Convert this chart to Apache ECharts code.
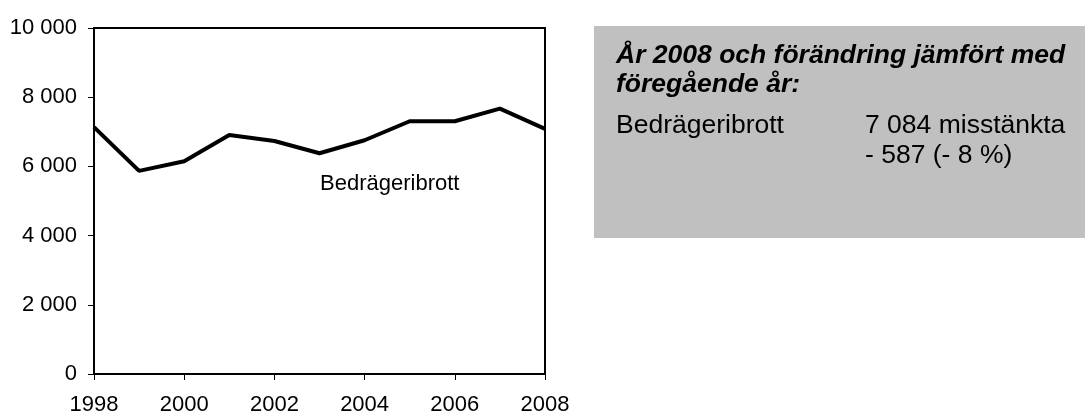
<!DOCTYPE html>
<html>
<head>
<meta charset="utf-8">
<script src="https://cdn.jsdelivr.net/npm/echarts@6/dist/echarts.min.js"></script>
<style>
  html, body { margin: 0; padding: 0; background: #fff; }
  #chart { width: 1085px; height: 416px; }
</style>
</head>
<body>
<div id="chart"></div>
<script>
// data
var years = [1998, 1999, 2000, 2001, 2002, 2003, 2004, 2005, 2006, 2007, 2008];
var bedrageri = [7135, 5870, 6150, 6905, 6735, 6380, 6755, 7305, 7305, 7671, 7084];
var seriesName = 'Bedrägeribrott';
var boxTitle = ['År 2008 och förändring jämfört med', 'föregående år:'];
var boxRow = ['Bedrägeribrott', '7 084 misstänkta', '- 587 (- 8 %)'];

var font = '"Liberation Sans", Arial, sans-serif';

var points = [];
for (var i = 0; i < years.length; i++) {
  points.push([years[i], bedrageri[i]]);
}

var myChart = echarts.init(document.getElementById('chart'));
var option = {
  animation: false,
  grid: { left: 94, right: 540, top: 28, bottom: 40, show: true, borderColor: '#000', borderWidth: 2, backgroundColor: 'transparent' },
  xAxis: {
    type: 'value',
    min: 1998, max: 2008, interval: 2,
    axisLine: { show: true, lineStyle: { color: '#000', width: 2 } },
    axisTick: { show: true, length: 6, lineStyle: { color: '#000', width: 1 } },
    axisLabel: { color: '#000', fontSize: 22, fontFamily: font, margin: 20, formatter: function (v) { return String(v); } },
    splitLine: { show: false }
  },
  yAxis: {
    type: 'value',
    min: 0, max: 10000, interval: 2000,
    axisLine: { show: true, lineStyle: { color: '#000', width: 2 } },
    axisTick: { show: true, length: 6, lineStyle: { color: '#000', width: 1 } },
    axisLabel: {
      color: '#000', fontSize: 22, fontFamily: font, margin: 17,
      formatter: function (v) { return String(v).replace(/\B(?=(\d{3})+(?!\d))/g, ' '); }
    },
    splitLine: { show: false }
  },
  series: [{
    name: seriesName,
    type: 'line',
    data: points,
    symbol: 'none',
    lineStyle: { color: '#000', width: 4 },
    z: 3
  }],
  graphic: [
    { type: 'text', left: 320, top: 173, style: { text: seriesName, fill: '#000', font: '22px ' + font } },
    { type: 'rect', shape: { x: 594, y: 26, width: 491, height: 212 }, style: { fill: '#c0c0c0' }, z: 0 },
    { type: 'text', x: 616, y: 42, style: { text: boxTitle[0], fill: '#000', font: 'italic bold 26.5px ' + font }, z: 5 },
    { type: 'text', x: 616, y: 71, style: { text: boxTitle[1], fill: '#000', font: 'italic bold 26.5px ' + font }, z: 5 },
    { type: 'text', x: 616, y: 112, style: { text: boxRow[0], fill: '#000', font: '26.5px ' + font }, z: 5 },
    { type: 'text', x: 865, y: 112, style: { text: boxRow[1], fill: '#000', font: '26.5px ' + font }, z: 5 },
    { type: 'text', x: 865, y: 142, style: { text: boxRow[2], fill: '#000', font: '26.5px ' + font }, z: 5 }
  ]
};
myChart.setOption(option);
</script>
</body>
</html>
